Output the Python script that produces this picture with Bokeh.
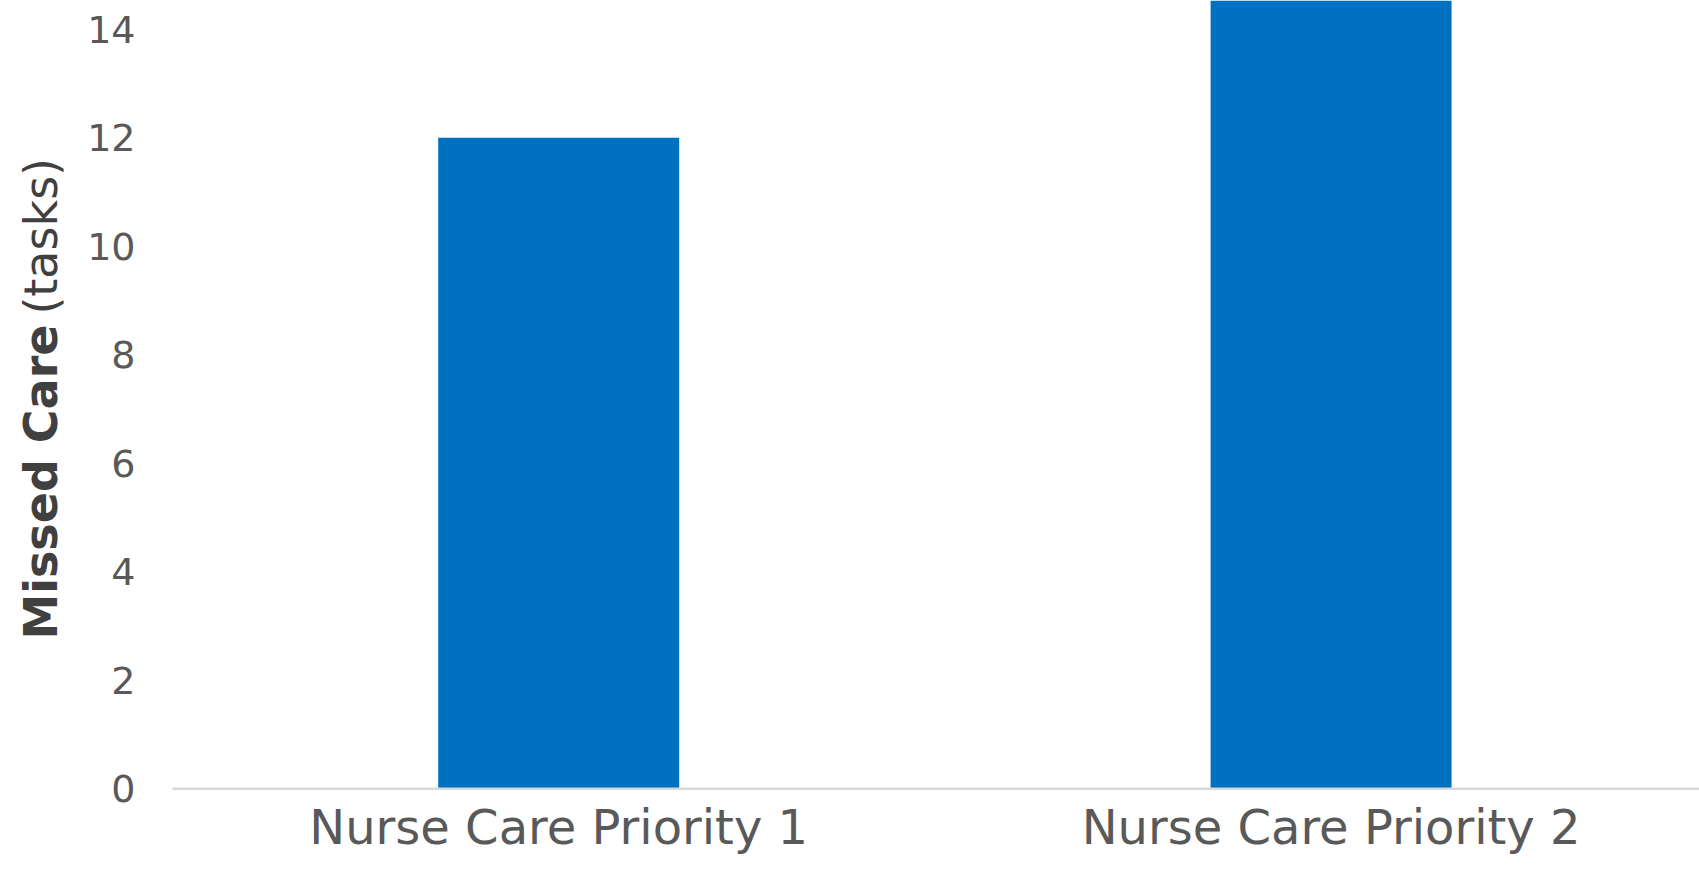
import math
from bokeh.plotting import figure
from bokeh.models import Range1d, Label, ColumnDataSource
from bokeh.core.properties import value
from bokeh.embed import file_html
from bokeh.resources import INLINE

categories = ["Nurse Care Priority 1", "Nurse Care Priority 2"]
missed_care = [12, 15]
y_ticks = [0, 2, 4, 6, 8, 10, 12, 14]
y_title_bold = "Missed Care"
y_title_unit = "(tasks)"

xs = [i + 0.5 for i in range(len(categories))]
src = ColumnDataSource(dict(x=xs, top=missed_care, cat=categories, y0=[0] * len(categories)))
tick_src = ColumnDataSource(dict(x=[0] * len(y_ticks), y=y_ticks, t=[str(v) for v in y_ticks]))

X_START, X_END = -0.2227, 1.977
p = figure(width=1699, height=881, output_backend="svg", toolbar_location=None,
           x_range=Range1d(X_START, X_END), y_range=Range1d(-1.709, 14.53),
           min_border_left=0, min_border_right=0, min_border_top=0, min_border_bottom=0)
p.outline_line_color = None
p.background_fill_color = "white"
p.border_fill_color = "white"
p.xgrid.visible = False
p.ygrid.visible = False
p.xaxis.visible = False
p.yaxis.visible = False

FONT = "DejaVu Sans"

p.vbar(x="x", top="top", width=0.312, bottom=0, source=src, fill_color="#0070C0", line_color=None)
# category axis baseline
p.segment(x0=[0], y0=[0], x1=[X_END], y1=[0], line_color="#D9D9D9", line_width=2.5)

# value axis tick labels
p.text(x="x", y="y", text="t", source=tick_src, x_offset=-37, text_align="right",
       text_baseline="middle", text_font=value(FONT), text_font_size="38px", text_color="#595959")

# category labels
p.text(x="x", y="y0", text="cat", source=src, y_offset=38, text_align="center",
       text_baseline="middle", text_font=value(FONT), text_font_size="48px", text_color="#595959")

p.add_layout(Label(x=40, x_units="screen", y=2.75, text=y_title_bold, angle=math.pi / 2,
                   text_align="left", text_baseline="middle", text_font=FONT,
                   text_font_style="bold", text_font_size="46px", text_color="#404040"))
p.add_layout(Label(x=40, x_units="screen", y=8.74, text=y_title_unit, angle=math.pi / 2,
                   text_align="left", text_baseline="middle", text_font=FONT,
                   text_font_size="46px", text_color="#404040"))

open("out.html", "w").write(file_html(p, INLINE))
